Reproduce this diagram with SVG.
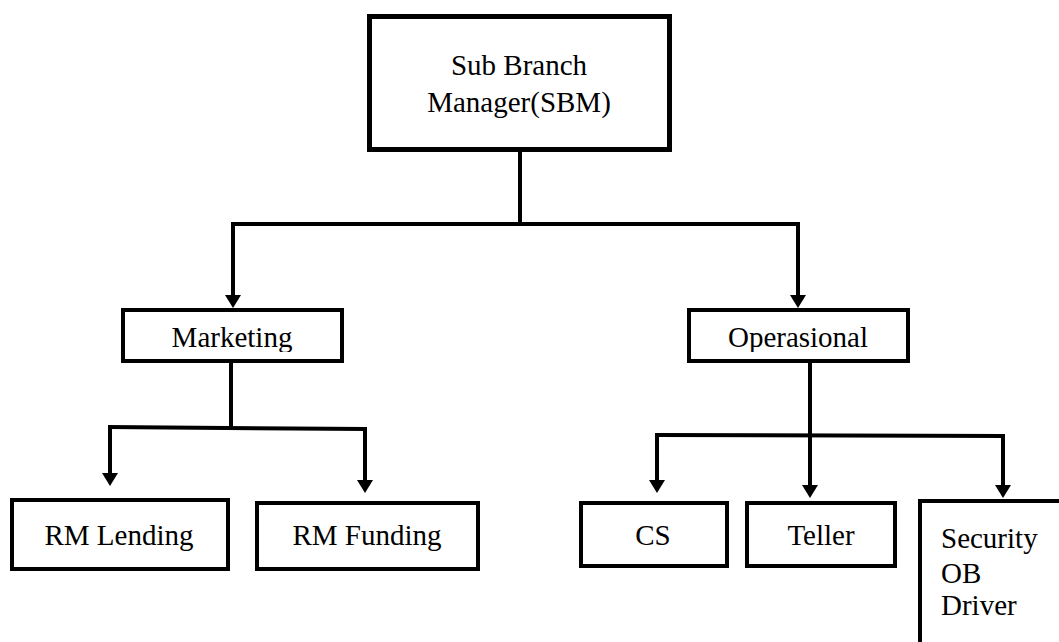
<svg xmlns="http://www.w3.org/2000/svg" width="1059" height="642" viewBox="0 0 1059 642">
<defs>
<clipPath id="clipM"><rect x="123" y="310" width="219" height="42"/></clipPath>
<clipPath id="clipO"><rect x="689" y="310" width="219" height="42"/></clipPath>
</defs>
<style>
.box{fill:#fff;stroke:#000;stroke-width:4}
.thick{stroke-width:5}
.t{font-family:"Liberation Serif","Times New Roman",serif;font-size:29px;fill:#000}
.c{text-anchor:middle}
.ln{fill:none;stroke:#000;stroke-width:4}
.ah{fill:#000}
</style>
<rect width="1059" height="642" fill="#fff"/>
<g id="connectors">
<polyline class="ln" points="520,152 520,224"/>
<polyline class="ln" points="233,224 798,224"/>
<line class="ln" x1="233" y1="222" x2="233" y2="295"/>
<path class="ah" d="M225,295 L241,295 L233,308 Z"/>
<line class="ln" x1="798" y1="222" x2="798" y2="295"/>
<path class="ah" d="M790,295 L806,295 L798,308 Z"/>
<line class="ln" x1="231" y1="363" x2="231" y2="428"/>
<line class="ln" x1="108" y1="427" x2="367" y2="429"/>
<line class="ln" x1="110" y1="425" x2="110" y2="474"/>
<path class="ah" d="M102,473 L118,473 L110,486 Z"/>
<line class="ln" x1="365" y1="427" x2="365" y2="481"/>
<path class="ah" d="M357,480 L373,480 L365,493 Z"/>
<line class="ln" x1="810" y1="363" x2="810" y2="435"/>
<line class="ln" x1="655" y1="435" x2="1005" y2="436"/>
<line class="ln" x1="657" y1="433" x2="657" y2="481"/>
<path class="ah" d="M649,480 L665,480 L657,493 Z"/>
<line class="ln" x1="810" y1="433" x2="810" y2="486"/>
<path class="ah" d="M802,485 L818,485 L810,498 Z"/>
<line class="ln" x1="1003" y1="434" x2="1003" y2="486"/>
<path class="ah" d="M995,485 L1011,485 L1003,498 Z"/>
</g>
<g id="sbm">
<rect class="box thick" x="369.5" y="16.5" width="300" height="133"/>
<text class="t c" x="519" y="75">Sub Branch</text>
<text class="t c" x="519" y="112">Manager(SBM)</text>
</g>
<g id="marketing">
<rect class="box" x="123" y="310" width="219" height="51"/>
<text class="t c" x="232" y="347" clip-path="url(#clipM)">Marketing</text>
</g>
<g id="operasional">
<rect class="box" x="689" y="310" width="219" height="51"/>
<text class="t c" x="798" y="347" clip-path="url(#clipO)">Operasional</text>
</g>
<g id="rm-lending">
<rect class="box" x="12" y="500" width="216" height="69"/>
<text class="t c" x="119" y="545">RM Lending</text>
</g>
<g id="rm-funding">
<rect class="box" x="257" y="503" width="221" height="66"/>
<text class="t c" x="367" y="545">RM Funding</text>
</g>
<g id="cs">
<rect class="box" x="581" y="503" width="146" height="63"/>
<text class="t c" x="653" y="545">CS</text>
</g>
<g id="teller">
<rect class="box" x="747" y="503" width="148" height="63"/>
<text class="t c" x="821" y="545">Teller</text>
</g>
<g id="security">
<rect class="box" x="920" y="501" width="160" height="160"/>
<text class="t" x="941" y="548">Security</text>
<text class="t" x="941" y="583">OB</text>
<text class="t" x="941" y="615">Driver</text>
</g>
</svg>
